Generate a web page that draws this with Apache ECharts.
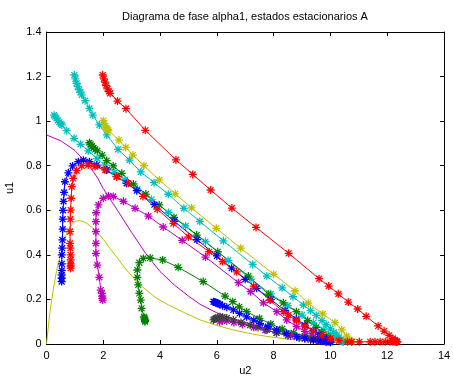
<!DOCTYPE html>
<html><head><meta charset="utf-8">
<script src="https://cdn.jsdelivr.net/npm/echarts@6/dist/echarts.min.js"></script>
<style>html,body{margin:0;padding:0;background:#fff;overflow:hidden}#c{width:453px;height:376px}</style>
</head><body><div id="c"></div>
<script>
var titleText = 'Diagrama de fase alpha1, estados estacionarios A';
var xTicks = [0,2,4,6,8,10,12,14];
var yTicks = [0,0.2,0.4,0.6,0.8,1,1.2,1.4];

var redTop = [[1.98,1.207],[2.02,1.19],[2.06,1.175],[2.1,1.16],[2.15,1.145],[2.2,1.133],[2.24,1.125],[2.5,1.09],[2.8,1.056],[3.48,0.959],[4.56,0.826],[5.15,0.761],[5.78,0.691],[6.53,0.61],[7.38,0.523],[8.53,0.407],[9.6,0.293],[9.94,0.26],[10.28,0.225],[10.63,0.188],[10.96,0.157],[11.26,0.124],[11.68,0.081],[11.89,0.058],[12.07,0.039],[12.2,0.025],[12.28,0.017],[12.33,0.012],[12.35,0.01]];
var cyanB = [[0.98,1.207],[1.02,1.19],[1.06,1.17],[1.1,1.155],[1.15,1.14],[1.2,1.13],[1.24,1.118],[1.36,1.092],[1.51,1.057],[1.63,1.027],[1.86,0.983],[2.12,0.938],[2.52,0.873],[2.92,0.825],[3.32,0.772],[3.79,0.724],[4.29,0.672],[4.84,0.609],[5.4,0.55],[6.23,0.463],[7.26,0.357],[7.76,0.305],[8.3,0.252],[8.68,0.212],[9.05,0.175],[9.3,0.15],[9.5,0.128],[9.7,0.105],[9.85,0.087],[10.0,0.068],[10.12,0.052],[10.22,0.04],[10.3,0.03],[10.37,0.02],[10.42,0.013],[10.45,0.01]];
var cyanC = [[0.27,1.027],[0.31,1.02],[0.35,1.012],[0.4,1.003],[0.45,0.995],[0.5,0.988],[0.54,0.983],[0.71,0.957],[0.97,0.923],[1.2,0.896],[1.47,0.867],[1.78,0.832],[2.06,0.803],[2.4,0.77],[2.77,0.736],[3.2,0.695],[3.7,0.648],[4.3,0.59],[4.9,0.53],[5.6,0.46],[6.4,0.375],[7.2,0.29],[7.9,0.225],[8.5,0.172],[9.0,0.13],[9.4,0.095],[9.75,0.065],[10.0,0.045],[10.2,0.028],[10.35,0.016],[10.45,0.01]];
var yellowD = [[2.0,1.002],[2.03,0.99],[2.07,0.978],[2.11,0.97],[2.15,0.963],[2.18,0.958],[2.55,0.915],[2.79,0.882],[3.04,0.848],[3.43,0.8],[3.97,0.736],[4.53,0.674],[5.11,0.611],[5.98,0.519],[6.84,0.43],[8.0,0.313],[8.75,0.239],[9.22,0.183],[9.73,0.135],[10.16,0.096],[10.4,0.063],[10.57,0.035],[10.67,0.02],[10.73,0.013],[10.75,0.01]];
var greenE = [[1.51,0.903],[1.55,0.896],[1.6,0.888],[1.66,0.88],[1.72,0.873],[1.79,0.867],[1.96,0.848],[2.12,0.823],[2.35,0.799],[2.65,0.766],[3.06,0.718],[3.5,0.673],[3.97,0.624],[4.49,0.568],[5.29,0.489],[6.03,0.414],[7.11,0.305],[7.81,0.224],[8.34,0.185],[8.8,0.145],[9.2,0.105],[9.5,0.075],[9.7,0.052],[9.85,0.035],[9.95,0.022],[10.0,0.015]];
var blueF = [[0.535,0.28],[0.535,0.295],[0.535,0.31],[0.54,0.33],[0.54,0.36],[0.54,0.4],[0.55,0.43],[0.56,0.467],[0.57,0.515],[0.57,0.56],[0.58,0.6],[0.6,0.64],[0.62,0.68],[0.65,0.728],[0.77,0.768],[0.92,0.799],[1.12,0.818],[1.3,0.825],[1.51,0.818],[1.77,0.803],[2.12,0.781],[2.47,0.751],[2.82,0.721],[3.18,0.688],[3.8,0.625],[4.5,0.55],[5.3,0.468],[6.0,0.395],[6.52,0.34],[7.0,0.29],[7.4,0.25],[7.9,0.2],[8.4,0.15],[8.8,0.112],[9.1,0.085],[9.4,0.06],[9.6,0.043],[9.75,0.03],[9.87,0.02],[9.95,0.014],[10.0,0.01]];
var redG = [[0.85,0.34],[0.85,0.35],[0.85,0.36],[0.85,0.377],[0.85,0.4],[0.84,0.43],[0.83,0.452],[0.83,0.504],[0.84,0.56],[0.85,0.601],[0.87,0.654],[0.89,0.706],[0.94,0.743],[1.06,0.778],[1.24,0.799],[1.47,0.803],[1.71,0.796],[2.06,0.781],[2.47,0.751],[2.88,0.721],[3.4,0.662],[3.9,0.605],[4.47,0.541],[5.0,0.481],[5.73,0.414],[6.2,0.37],[6.7,0.324],[7.3,0.26],[7.87,0.197],[8.34,0.145],[8.52,0.13],[8.8,0.105],[9.1,0.08],[9.4,0.058],[9.7,0.04],[10.0,0.025],[10.3,0.015],[10.6,0.01],[10.75,0.01],[11.02,0.01],[11.4,0.01],[11.57,0.01],[11.75,0.01],[11.93,0.01],[12.1,0.01],[12.2,0.01],[12.28,0.01],[12.33,0.01],[12.35,0.01]];
var magentaK = [[1.98,0.197],[1.97,0.205],[1.96,0.215],[1.95,0.227],[1.91,0.242],[1.86,0.299],[1.79,0.354],[1.74,0.407],[1.74,0.452],[1.74,0.504],[1.74,0.549],[1.75,0.589],[1.83,0.624],[2.0,0.654],[2.18,0.664],[2.35,0.662],[2.71,0.64],[3.12,0.609],[3.59,0.574],[4.11,0.525],[4.78,0.465],[5.6,0.39],[6.76,0.275],[7.19,0.235],[7.64,0.185],[8.11,0.145],[8.46,0.108],[8.81,0.078],[9.1,0.057],[9.35,0.04],[9.55,0.028],[9.72,0.02],[9.85,0.014],[9.95,0.01]];
var greenL = [[3.47,0.1],[3.47,0.105],[3.46,0.11],[3.45,0.117],[3.43,0.122],[3.35,0.16],[3.32,0.197],[3.27,0.227],[3.23,0.265],[3.2,0.299],[3.2,0.332],[3.27,0.365],[3.41,0.384],[3.65,0.386],[4.09,0.377],[4.64,0.344],[5.52,0.28],[6.29,0.215],[6.56,0.19],[6.79,0.167],[7.05,0.145],[7.5,0.115],[7.9,0.09],[8.3,0.068],[8.7,0.05],[9.1,0.035],[9.45,0.024],[9.7,0.017],[9.9,0.012],[10.0,0.01]];
var blueH = [[5.88,0.19],[5.92,0.188],[5.96,0.186],[6.0,0.184],[6.05,0.181],[6.1,0.178],[6.2,0.172],[6.35,0.165],[6.58,0.153],[6.8,0.137],[7.05,0.122],[7.3,0.107],[7.52,0.093],[7.8,0.078],[8.11,0.063],[8.45,0.048],[8.81,0.033],[9.1,0.025],[9.4,0.018],[9.65,0.013],[9.85,0.01],[10.0,0.008]];
var grayI = [[5.88,0.108],[5.92,0.112],[5.97,0.116],[6.03,0.119],[6.11,0.122],[6.2,0.121],[6.35,0.117],[6.58,0.108],[6.85,0.097],[7.17,0.085],[7.45,0.074],[7.76,0.063],[8.1,0.05],[8.5,0.038],[8.9,0.027],[9.3,0.018],[9.6,0.013],[9.85,0.01]];
var magentaJ = [[6.1,0.1],[6.2,0.105],[6.35,0.104],[6.6,0.097],[6.9,0.088],[7.3,0.075],[7.7,0.062],[8.1,0.05],[8.6,0.036],[9.1,0.025],[9.5,0.017],[9.8,0.012]];
var magentaLine = [[0,0.938],[0.5,0.912],[1.0,0.868],[1.5,0.8],[1.8,0.745],[2.0,0.697],[2.5,0.6],[3.0,0.5],[3.5,0.405],[4.0,0.325],[4.5,0.265],[5.0,0.215],[5.41,0.178],[6.0,0.14],[6.7,0.108],[7.5,0.078],[8.5,0.05],[9.6,0.027],[10.3,0.018]];
var yellowLine = [[0,0],[0.05,0.06],[0.1,0.12],[0.15,0.17],[0.24,0.245],[0.35,0.325],[0.48,0.392],[0.6,0.45],[0.71,0.497],[0.82,0.525],[0.94,0.543],[1.06,0.552],[1.18,0.553],[1.3,0.549],[1.42,0.541],[1.6,0.524],[1.77,0.504],[2.0,0.47],[2.24,0.429],[2.5,0.385],[2.82,0.332],[3.29,0.265],[3.88,0.205],[4.3,0.175],[4.7,0.15],[5.41,0.108],[6.0,0.083],[6.58,0.063],[7.2,0.046],[7.76,0.034],[8.6,0.02],[9.63,0.01],[10.3,0.006]];
var brownLine = [[8.9,0.035],[9.5,0.025],[10.0,0.018]];

var STAR = 'path://M0 4.2H10V5.8H0Z M4.2 0H5.8V10H4.2Z M1.9 0.8L9.2 8.1L8.1 9.2L0.8 1.9Z M8.1 0.8L9.2 1.9L1.9 9.2L0.8 8.1Z';

function traj(data, color, marker) {
  return {
    type: 'line', data: data, xAxisIndex: 0, yAxisIndex: 0,
    symbol: marker ? STAR : 'none', symbolSize: 8, showSymbol: !!marker,
    lineStyle: { color: color, width: 1 },
    itemStyle: { color: color },
    silent: true, animation: false, z: 2
  };
}

var series = [
  traj(magentaLine, '#bf00bf', false),
  traj(yellowLine, '#bfbf00', false),
  traj(brownLine, '#c89650', false),
  traj(redTop, '#ff0000', true),
  traj(cyanB, '#00bfbf', true),
  traj(cyanC, '#00bfbf', true),
  traj(yellowD, '#bfbf00', true),
  traj(greenE, '#008000', true),
  traj(greenL, '#008000', true),
  traj(magentaK, '#bf00bf', true),
  traj(magentaJ, '#bf00bf', true),
  traj(grayI, '#404040', true),
  traj(blueH, '#0000ff', true),
  traj(blueF, '#0000ff', true),
  traj(redG, '#ff0000', true)
];

var axisCommon = {
  axisLine: { show: true, onZero: false, lineStyle: { color: '#000', width: 1 } },
  axisTick: { show: true, inside: true, length: 4, lineStyle: { color: '#000' } },
  splitLine: { show: false }
};
var fontLbl = { color: '#000', fontSize: 11, fontFamily: 'Liberation Sans, Arial, sans-serif' };

var chart = echarts.init(document.getElementById('c'), null, { renderer: 'canvas' });
chart.setOption({
  animation: false,
  backgroundColor: '#fff',
  grid: { left: 46.5, right: 9, top: 32, bottom: 32, containLabel: false, outerBoundsMode: 'none' },
  graphic: [{ type: 'text', x: 245, y: 17, style: { text: titleText, fill: '#000', font: '11px "Liberation Sans", Arial, sans-serif', textAlign: 'center', textVerticalAlign: 'middle' } }],
  xAxis: [
    Object.assign({ type: 'value', position: 'bottom', min: xTicks[0], max: xTicks[xTicks.length-1], interval: 2,
      axisLabel: Object.assign({ margin: 6 }, fontLbl),
      name: 'u2', nameLocation: 'middle', nameGap: 18, nameTextStyle: fontLbl }, axisCommon),
    Object.assign({ type: 'value', position: 'top', min: xTicks[0], max: xTicks[xTicks.length-1], interval: 2,
      axisLabel: { show: false } }, axisCommon)
  ],
  yAxis: [
    Object.assign({ type: 'value', position: 'left', min: yTicks[0], max: yTicks[yTicks.length-1], interval: 0.2,
      axisLabel: Object.assign({ margin: 5, formatter: function(v){ return String(Math.round(v*10)/10); } }, fontLbl),
      name: 'u1', nameLocation: 'middle', nameGap: 27, nameRotate: 90, nameTextStyle: fontLbl }, axisCommon),
    Object.assign({ type: 'value', position: 'right', min: yTicks[0], max: yTicks[yTicks.length-1], interval: 0.2,
      axisLabel: { show: false } }, axisCommon)
  ],
  series: series
});
</script>
</body></html>
